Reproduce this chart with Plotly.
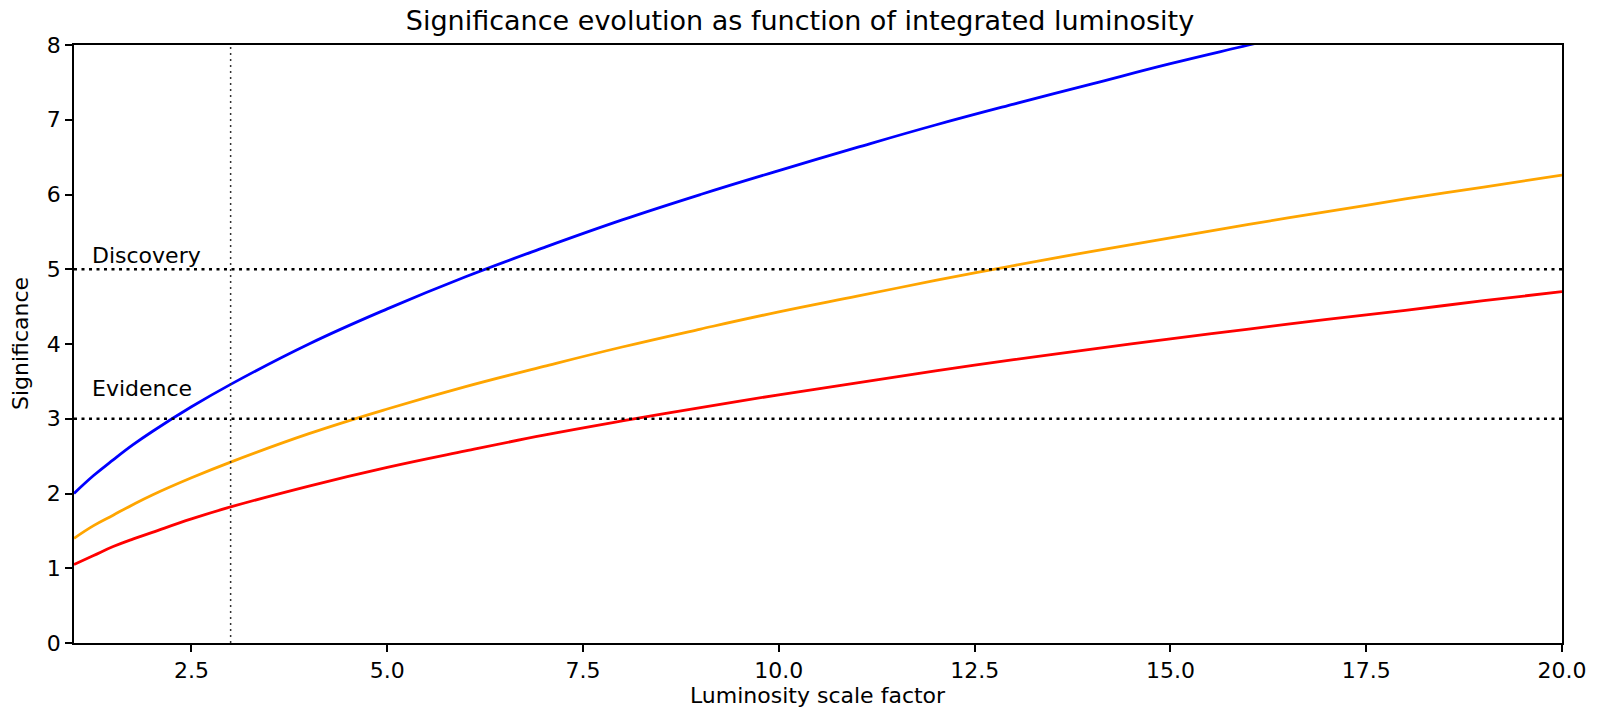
import plotly.graph_objects as go

# Luminosity scale factor samples
lumi = [1, 1.25, 1.5, 1.75, 2, 2.5, 3, 4, 5, 6, 7, 8, 9, 10, 11, 12, 13, 14, 15, 16, 17, 18, 19, 20]

# Expected significance for three signal hypotheses
sig_blue = [2.00, 2.24, 2.45, 2.65, 2.83, 3.16, 3.46, 4.00, 4.47, 4.90, 5.29, 5.66, 6.00, 6.32,
            6.63, 6.93, 7.21, 7.48, 7.75, 8.00, 8.25, 8.49, 8.72, 8.94]
sig_orange = [1.40, 1.57, 1.71, 1.85, 1.98, 2.21, 2.42, 2.80, 3.13, 3.43, 3.70, 3.96, 4.20, 4.43,
              4.64, 4.85, 5.05, 5.24, 5.42, 5.60, 5.77, 5.94, 6.10, 6.26]
sig_red = [1.05, 1.17, 1.29, 1.39, 1.48, 1.66, 1.82, 2.10, 2.35, 2.57, 2.78, 2.97, 3.15, 3.32,
           3.48, 3.64, 3.79, 3.93, 4.07, 4.20, 4.33, 4.45, 4.58, 4.70]

# Reference thresholds and current luminosity marker
thresholds = [5, 3]
threshold_labels = ["Discovery", "Evidence"]
label_y = [5.0, 3.22]
current_lumi = 3

x_ticks = [2.5, 5.0, 7.5, 10.0, 12.5, 15.0, 17.5, 20.0]
y_ticks = [0, 1, 2, 3, 4, 5, 6, 7, 8]

FONT = "DejaVu Sans"
x_min, x_max = 1, 20

fig = go.Figure()

for series, color in [(sig_blue, "#0000ff"), (sig_orange, "#ffa500"), (sig_red, "#ff0000")]:
    fig.add_trace(go.Scatter(
        x=lumi, y=series, mode="lines",
        line=dict(color=color, width=2.8, shape="spline", smoothing=1.2),
        showlegend=False, hoverinfo="skip", cliponaxis=True,
    ))

for level, text, ty in zip(thresholds, threshold_labels, label_y):
    fig.add_trace(go.Scatter(
        x=[x_min, x_max], y=[level, level], mode="lines",
        line=dict(color="black", width=2.5, dash="3px,4.5px"),
        showlegend=False, hoverinfo="skip",
    ))
    fig.add_annotation(
        x=1.2, y=ty, xref="x", yref="y", text=text, showarrow=False,
        xanchor="left", yanchor="bottom", yshift=-1,
        font=dict(family=FONT, size=22, color="black"),
    )

fig.add_trace(go.Scatter(
    x=[current_lumi, current_lumi], y=[0, 8], mode="lines",
    line=dict(color="#333333", width=1.5, dash="2px,4px"),
    showlegend=False, hoverinfo="skip",
))

axis_common = dict(
    showgrid=False, zeroline=False, showline=True, linecolor="black", linewidth=1.7,
    mirror=True, ticks="outside", ticklen=7, tickwidth=1.7, tickcolor="black",
    tickfont=dict(family=FONT, size=22, color="black"),
)

fig.update_layout(
    width=1600, height=711,
    margin=dict(l=74, r=38, t=45, b=68),
    paper_bgcolor="white", plot_bgcolor="white",
    xaxis=dict(range=[x_min, x_max], tickvals=x_ticks,
               ticktext=[f"{v:.1f}" for v in x_ticks], **axis_common),
    yaxis=dict(range=[0, 8], tickvals=y_ticks, **axis_common),
    title=dict(text="Significance evolution as function of integrated luminosity",
               x=0.5, xanchor="center", y=1 - 21 / 711, yanchor="middle",
               font=dict(family=FONT, size=27, color="black")),
)

fig.add_annotation(
    x=0.5, y=0, xref="paper", yref="paper", text="Luminosity scale factor",
    showarrow=False, xanchor="center", yanchor="middle", yshift=-52,
    font=dict(family=FONT, size=22, color="black"),
)
fig.add_annotation(
    x=0, y=0.5, xref="paper", yref="paper", text="Significance", textangle=-90,
    showarrow=False, xanchor="center", yanchor="middle", xshift=-54,
    font=dict(family=FONT, size=22, color="black"),
)

fig.write_html("out.html")
